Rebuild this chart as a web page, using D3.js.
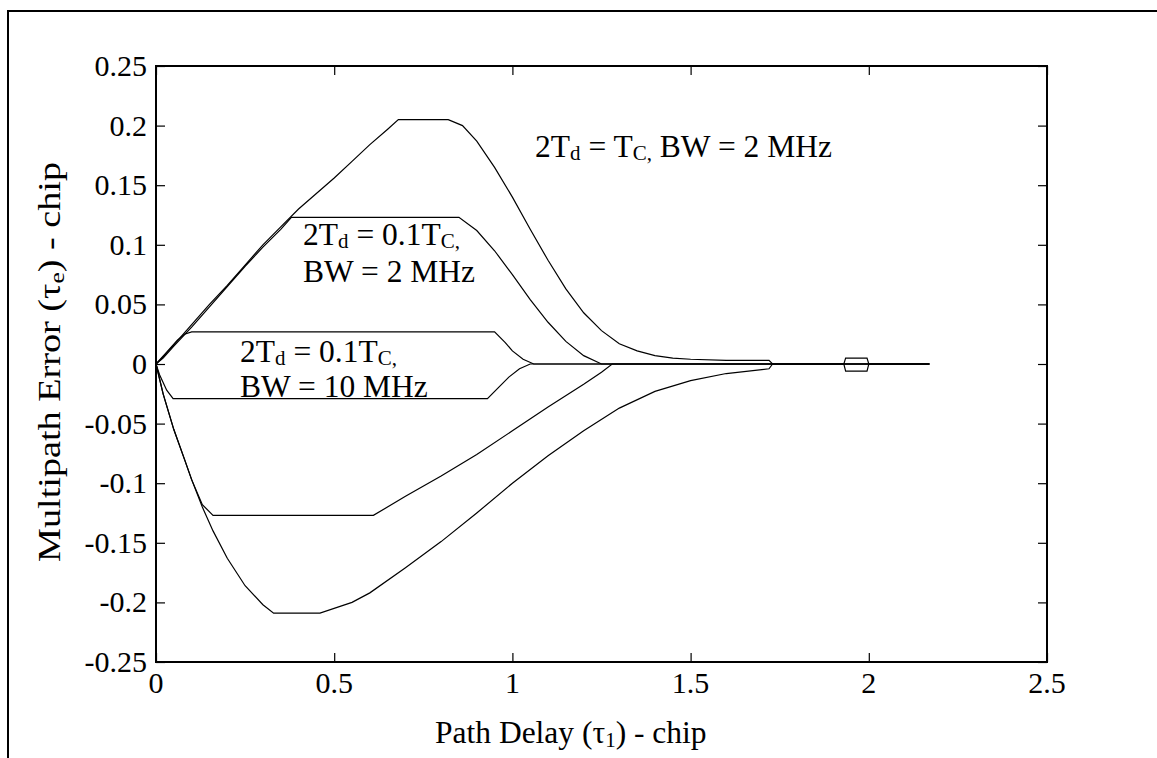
<!DOCTYPE html>
<html>
<head>
<meta charset="utf-8">
<script src="https://cdn.jsdelivr.net/npm/d3@7"></script>
<style>
  html, body { margin: 0; padding: 0; background: #fff; }
  svg text { font-family: "Liberation Serif", "Times New Roman", serif; fill: #000; }
</style>
</head>
<body>
<svg id="chart" width="1157" height="758"></svg>
<script>
// ---------------- data ----------------
const xTicks = [0, 0.5, 1, 1.5, 2, 2.5];
const xTickLabels = ["0", "0.5", "1", "1.5", "2", "2.5"];
const yTicks = [0.25, 0.2, 0.15, 0.1, 0.05, 0, -0.05, -0.1, -0.15, -0.2, -0.25];
const yTickLabels = ["0.25", "0.2", "0.15", "0.1", "0.05", "0", "-0.05", "-0.1", "-0.15", "-0.2", "-0.25"];

// 2Td = Tc, BW = 2 MHz
const tcUpperX = [0, 0.02, 0.05, 0.1, 0.15, 0.2, 0.25, 0.3, 0.35, 0.4, 0.45, 0.5, 0.55, 0.6, 0.65, 0.68, 0.82, 0.86, 0.9, 0.95, 1.0, 1.05, 1.1, 1.15, 1.2, 1.25, 1.3, 1.35, 1.4, 1.45, 1.5, 1.6, 1.72, 1.73, 1.93, 1.935, 1.995, 2.0, 2.17];
const tcUpperY = [0, 0.006, 0.016, 0.033, 0.05, 0.066, 0.083, 0.1, 0.115, 0.13, 0.143, 0.156, 0.17, 0.184, 0.197, 0.205, 0.205, 0.2, 0.187, 0.165, 0.14, 0.113, 0.087, 0.063, 0.043, 0.028, 0.017, 0.011, 0.007, 0.005, 0.004, 0.003, 0.003, 0, 0, 0.005, 0.005, 0, 0];
const tcLowerX = [0, 0.02, 0.05, 0.08, 0.1, 0.13, 0.16, 0.2, 0.25, 0.3, 0.33, 0.46, 0.55, 0.6, 0.7, 0.8, 0.9, 1.0, 1.1, 1.2, 1.3, 1.4, 1.5, 1.6, 1.72, 1.73, 1.93, 1.935, 1.995, 2.0, 2.17];
const tcLowerY = [0, -0.025, -0.055, -0.08, -0.097, -0.12, -0.14, -0.163, -0.186, -0.202, -0.209, -0.209, -0.2, -0.192, -0.171, -0.149, -0.125, -0.1, -0.077, -0.056, -0.037, -0.023, -0.014, -0.008, -0.004, 0, 0, -0.006, -0.006, 0, 0];

// 2Td = 0.1Tc, BW = 2 MHz
const n2UpperX = [0, 0.02, 0.05, 0.1, 0.15, 0.2, 0.25, 0.3, 0.35, 0.38, 0.85, 0.9, 0.95, 1.0, 1.05, 1.1, 1.15, 1.2, 1.25, 2.17];
const n2UpperY = [0, 0.005, 0.015, 0.031, 0.048, 0.065, 0.082, 0.098, 0.113, 0.123, 0.123, 0.112, 0.095, 0.075, 0.054, 0.035, 0.019, 0.007, 0, 0];
const n2LowerX = [0, 0.02, 0.05, 0.08, 0.1, 0.13, 0.16, 0.61, 0.7, 0.8, 0.9, 1.0, 1.1, 1.2, 1.25, 1.28, 2.17];
const n2LowerY = [0, -0.025, -0.055, -0.08, -0.097, -0.118, -0.127, -0.127, -0.111, -0.094, -0.076, -0.056, -0.036, -0.017, -0.007, 0, 0];

// 2Td = 0.1Tc, BW = 10 MHz
const n10UpperX = [0, 0.03, 0.06, 0.08, 0.1, 0.95, 0.98, 1.0, 1.03, 1.06, 2.17];
const n10UpperY = [0, 0.01, 0.02, 0.025, 0.027, 0.027, 0.018, 0.011, 0.004, 0, 0];
const n10LowerX = [0, 0.01, 0.03, 0.048, 0.93, 0.96, 0.99, 1.02, 1.05, 2.17];
const n10LowerY = [0, -0.009, -0.022, -0.029, -0.029, -0.02, -0.011, -0.004, 0, 0];

const seriesList = [
  [tcUpperX, tcUpperY], [tcLowerX, tcLowerY],
  [n2UpperX, n2UpperY], [n2LowerX, n2LowerY],
  [n10UpperX, n10UpperY], [n10LowerX, n10LowerY]
];

// ---------------- layout ----------------
const svg = d3.select("#chart");
const L = 156, R = 1047, T = 66, B = 662;
const FS = 30, FA = 31.5;
const x = d3.scaleLinear().domain([0, 2.5]).range([L, R]);
const y = d3.scaleLinear().domain([-0.25, 0.25]).range([B, T]);

// outer frame (partial, as in the reference)
svg.append("path")
  .attr("d", `M8,758 V11 H1157`)
  .attr("fill", "none").attr("stroke", "#000").attr("stroke-width", 2);

// curves
const line = d3.line().x(d => x(d[0])).y(d => y(d[1]));
seriesList.forEach(([xs, ys]) => {
  svg.append("path")
    .datum(xs.map((v, i) => [v, ys[i]]))
    .attr("d", line)
    .attr("fill", "none").attr("stroke", "#000").attr("stroke-width", 1.2);
});

// axes with inward ticks on all sides
const tickLen = 9;
svg.append("g").attr("transform", `translate(0,${B})`)
  .call(d3.axisBottom(x).tickValues(xTicks).tickSize(-tickLen).tickFormat(""))
  .call(g => g.select(".domain").remove());
svg.append("g").attr("transform", `translate(0,${T})`)
  .call(d3.axisTop(x).tickValues(xTicks).tickSize(-tickLen).tickFormat(""))
  .call(g => g.select(".domain").remove());
svg.append("g").attr("transform", `translate(${L},0)`)
  .call(d3.axisLeft(y).tickValues(yTicks).tickSize(-tickLen).tickFormat(""))
  .call(g => g.select(".domain").remove());
svg.append("g").attr("transform", `translate(${R},0)`)
  .call(d3.axisRight(y).tickValues(yTicks).tickSize(-tickLen).tickFormat(""))
  .call(g => g.select(".domain").remove());
svg.selectAll(".tick line").attr("stroke", "#000").attr("stroke-width", 1.2);

svg.append("rect")
  .attr("x", L).attr("y", T).attr("width", R - L).attr("height", B - T)
  .attr("fill", "none").attr("stroke", "#000").attr("stroke-width", 2);

// tick labels
svg.append("g").selectAll("text").data(xTicks).join("text")
  .attr("x", d => x(d)).attr("y", 693)
  .attr("text-anchor", "middle").attr("font-size", FS)
  .text((d, i) => xTickLabels[i]);
svg.append("g").selectAll("text").data(yTicks).join("text")
  .attr("x", 147).attr("y", d => y(d) + 10)
  .attr("text-anchor", "end").attr("font-size", FS)
  .text((d, i) => yTickLabels[i]);

// axis titles
const xt = svg.append("text").attr("x", 435).attr("y", 743).attr("font-size", FA);
xt.append("tspan").text("Path Delay (τ");
xt.append("tspan").attr("font-size", 21).attr("dy", 4).text("1");
xt.append("tspan").attr("dy", -4).text(") - chip");

const yt = svg.append("text").attr("transform", "translate(60,562) rotate(-90)")
  .attr("font-size", FA).attr("textLength", 400).attr("lengthAdjust", "spacingAndGlyphs");
yt.append("tspan").text("Multipath Error (τ");
yt.append("tspan").attr("font-size", 21).attr("dy", 4).text("e");
yt.append("tspan").attr("dy", -4).text(") - chip");

// annotations
function label(xp, yp, parts) {
  const t = svg.append("text").attr("x", xp).attr("y", yp).attr("font-size", FA);
  let shift = 0;
  parts.forEach(p => {
    const s = p.sub ? 3 : 0;
    t.append("tspan").attr("font-size", p.sub ? 21 : FA).attr("dy", s - shift).text(p.t);
    shift = s;
  });
}
label(535, 157, [{t: "2T"}, {t: "d", sub: true}, {t: " = T"}, {t: "C,", sub: true}, {t: " BW = 2 MHz"}]);
label(303, 245, [{t: "2T"}, {t: "d", sub: true}, {t: " = 0.1T"}, {t: "C,", sub: true}]);
label(303, 282, [{t: "BW = 2 MHz"}]);
label(240, 362, [{t: "2T"}, {t: "d", sub: true}, {t: " = 0.1T"}, {t: "C,", sub: true}]);
label(240, 397, [{t: "BW = 10 MHz"}]);
</script>
</body>
</html>
